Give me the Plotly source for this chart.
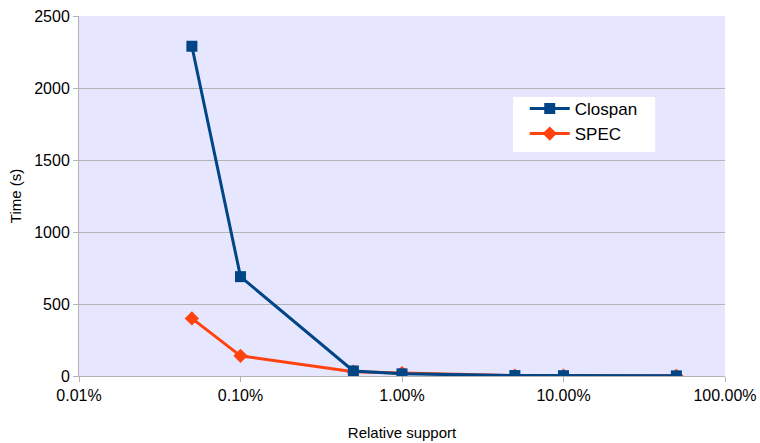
import plotly.graph_objects as go

support = [0.05, 0.1, 0.5, 1, 5, 10, 50]
clospan = [2290, 690, 35, 15, 3, 2, 1]
spec = [400, 140, 30, 20, 3, 2, 1]

tick_vals = [0.01, 0.1, 1, 10, 100]
tick_text = ["0.01%", "0.10%", "1.00%", "10.00%", "100.00%"]
y_ticks = [0, 500, 1000, 1500, 2000, 2500]

fig = go.Figure()
fig.add_trace(go.Scatter(x=support, y=spec, name="SPEC", mode="lines+markers",
                         line=dict(color="#ff420e", width=3),
                         marker=dict(symbol="diamond", size=11, color="#ff420e")))
fig.add_trace(go.Scatter(x=support, y=clospan, name="Clospan", mode="lines+markers",
                         line=dict(color="#004586", width=3),
                         marker=dict(symbol="square", size=11, color="#004586")))

# white legend frame
fig.add_shape(type="rect", xref="paper", yref="paper", x0=0.672, x1=0.892,
              y0=0.622, y1=0.775, fillcolor="white", line=dict(width=0), layer="below")

fig.update_layout(
    width=760, height=443,
    margin=dict(l=79, r=35, t=16, b=67, autoexpand=False),
    paper_bgcolor="white", plot_bgcolor="#e6e6ff",
    font=dict(family="Liberation Sans", size=14, color="black"),
    legend=dict(x=0.69, y=0.792, xanchor="left", yanchor="top",
                bgcolor="rgba(0,0,0,0)", traceorder="reversed", itemwidth=40,
                font=dict(size=17), tracegroupgap=0),
    showlegend=True,
)
fig.update_xaxes(type="log", range=[-2, 2], tickvals=tick_vals, ticktext=tick_text,
                 showgrid=False, showline=True, linecolor="#b3b3b3", linewidth=1,
                 ticks="outside", tickcolor="#b3b3b3", ticklen=5, automargin=False,
                 tickfont=dict(size=16), zeroline=False,
                 title=dict(text="Relative support", font=dict(size=15), standoff=24))
fig.update_yaxes(range=[0, 2500], tickvals=y_ticks, showgrid=True, gridcolor="#b3b3b3",
                 showline=True, linecolor="#b3b3b3", linewidth=1,
                 ticks="outside", tickcolor="#b3b3b3", ticklen=5, automargin=False,
                 tickfont=dict(size=16), zeroline=False,
                 title=dict(text="Time (s)", font=dict(size=15), standoff=8))

fig.write_html("out.html", config={"displayModeBar": False},
               post_script="document.body.style.margin='0';document.body.style.overflow='hidden';")
